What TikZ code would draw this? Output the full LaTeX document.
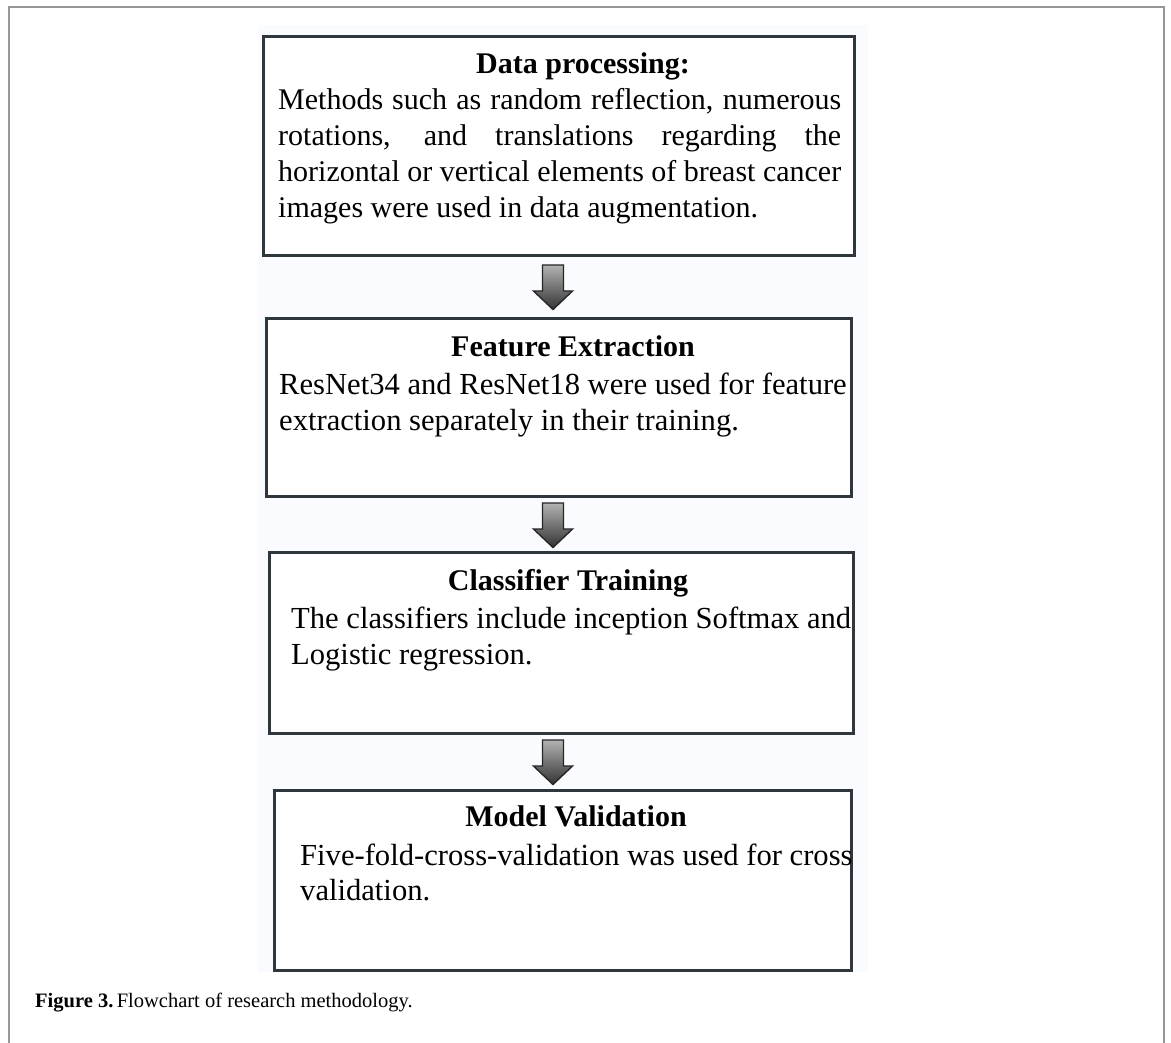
\documentclass[tikz,border=0pt]{standalone}
\usepackage{fontspec}
\setmainfont{Liberation Serif}
\usetikzlibrary{calc}
\definecolor{boxline}{RGB}{45,55,60}
\definecolor{framegray}{RGB}{150,150,150}
\definecolor{bgtint}{RGB}{250,251,254}
\tikzset{
  x=1pt, y=-1pt,
  stepbox/.style={draw=boxline, line width=2.6pt, fill=white},
  ttl/.style={anchor=base, inner sep=0pt, font=\fontsize{30}{36}\selectfont\bfseries},
  body/.style={anchor=base west, inner sep=0pt, font=\fontsize{30}{36}\selectfont},
  bodyb/.style={anchor=base west, inner sep=0pt, font=\fontsize{30.6}{36}\selectfont},
  blockarrow/.style={draw=black!85, line width=1.4pt, line join=miter, top color=black!30, bottom color=black!80},
}
\begin{document}
\begin{tikzpicture}
\useasboundingbox (0,0) rectangle (1171,1043);
% outer frame (open at bottom)
\draw[framegray, line width=2.2pt] (9,1043) -- (9,7) -- (1164,7) -- (1164,1043);
% faint background
\fill[bgtint] (258,25) rectangle (868,972);

% boxes
\node[stepbox, minimum width=591, minimum height=219, anchor=north west, inner sep=0] (b1) at (262,35) {};
\node[stepbox, minimum width=585, minimum height=178, anchor=north west, inner sep=0] (b2) at (265,317) {};
\node[stepbox, minimum width=584, minimum height=181, anchor=north west, inner sep=0] (b3) at (268,551) {};
\node[stepbox, minimum width=577, minimum height=180, anchor=north west, inner sep=0] (b4) at (273,789) {};

% box 1 text
\node[ttl] (t1) at (583,74) {Data processing:};
\node[body] (l11) at (278,110) {\makebox[563pt][s]{Methods such as random reflection, numerous}};
\node[body] (l12) at (278,146) {\makebox[563pt][s]{rotations, and translations regarding the}};
\node[body] (l13) at (278,182) {\makebox[563pt][s]{horizontal or vertical elements of breast cancer}};
\node[body] (l14) at (278,218) {images were used in data augmentation.};

% box 2 text
\node[ttl] (t2) at (573,356) {Feature Extraction};
\node[bodyb] (l21) at (279,394) {ResNet34 and ResNet18 were used for feature};
\node[bodyb] (l22) at (279,430) {extraction separately in their training.};

% box 3 text
\node[ttl] (t3) at (568,590) {Classifier Training};
\node[bodyb] (l31) at (291,628) {The classifiers include inception Softmax and};
\node[bodyb] (l32) at (291,664) {Logistic regression.};

% box 4 text
\node[ttl] (t4) at (576,826) {Model Validation};
\node[bodyb] (l41) at (300,865) {Five-fold-cross-validation was used for cross};
\node[bodyb] (l42) at (300,900) {validation.};

% block arrows between boxes
\foreach \cy in {287,525,762}{
  \draw[blockarrow, shift={(553,\cy)}]
    (-10.5,-22) -- (10.5,-22) -- (10.5,4) -- (19.5,4) -- (0,22.5) -- (-19.5,4) -- (-10.5,4) -- cycle;
}

% caption
\node[anchor=base west, inner sep=0pt, font=\fontsize{20.5}{24}\selectfont] (cap) at (35,1007)
  {\textbf{Figure 3.}\,Flowchart of research methodology.};
\end{tikzpicture}
\end{document}
